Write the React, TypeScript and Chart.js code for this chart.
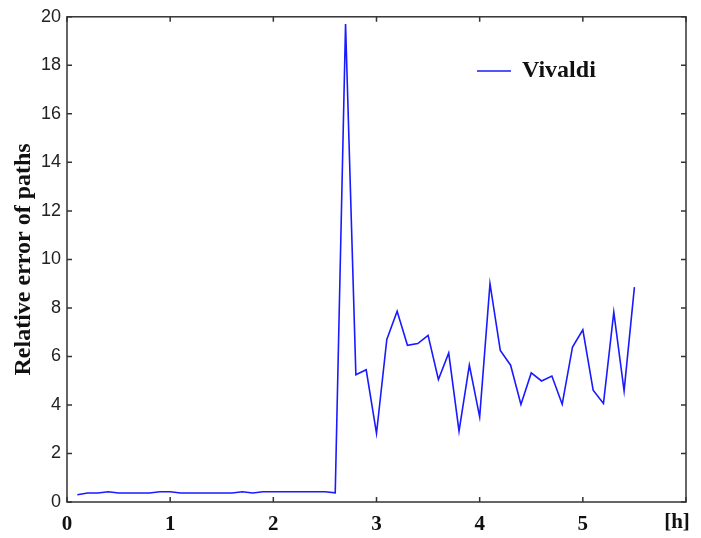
import React, { useEffect, useRef } from "react";
import { Chart, registerables } from "chart.js";

Chart.register(...registerables);

const hours = [
  0.1, 0.2, 0.3, 0.4, 0.5, 0.6, 0.7, 0.8, 0.9, 1.0,
  1.1, 1.2, 1.3, 1.4, 1.5, 1.6, 1.7, 1.8, 1.9, 2.0,
  2.1, 2.2, 2.3, 2.4, 2.5, 2.6, 2.7, 2.8, 2.9, 3.0,
  3.1, 3.2, 3.3, 3.4, 3.5, 3.6, 3.7, 3.8, 3.9, 4.0,
  4.1, 4.2, 4.3, 4.4, 4.5, 4.6, 4.7, 4.8, 4.9, 5.0,
  5.1, 5.2, 5.3, 5.4, 5.5,
];

const vivaldiError = [
  0.30, 0.37, 0.37, 0.42, 0.37, 0.37, 0.37, 0.37, 0.42, 0.42,
  0.37, 0.37, 0.37, 0.37, 0.37, 0.37, 0.42, 0.37, 0.42, 0.42,
  0.42, 0.42, 0.42, 0.42, 0.42, 0.38, 19.7, 5.25, 5.45, 2.83,
  6.7, 7.86, 6.46, 6.53, 6.87, 5.05, 6.14, 2.92, 5.64, 3.51,
  9.0, 6.25, 5.64, 4.02, 5.32, 4.99, 5.19, 4.03, 6.39, 7.1,
  4.61, 4.06, 7.83, 4.58, 8.86,
];

const seriesName = "Vivaldi";
const yAxisTitle = "Relative error of paths";
const xUnitLabel = "[h]";
const xTickValues = [0, 1, 2, 3, 4, 5, 6];
const yTickValues = [0, 2, 4, 6, 8, 10, 12, 14, 16, 18, 20];

const SERIF = "'Liberation Serif', 'Times New Roman', serif";
const SANS = "'Liberation Sans', Arial, sans-serif";

const boxPlugin = {
  id: "matlabBox",
  afterDraw(chart: any) {
    const { ctx, chartArea } = chart;
    const xs = chart.scales.x;
    const ys = chart.scales.y;
    const { left, right, top, bottom } = chartArea;
    ctx.save();
    ctx.strokeStyle = "#333";
    ctx.lineWidth = 1.5;
    ctx.strokeRect(left, top, right - left, bottom - top);
    const tl = 5;
    ctx.beginPath();
    for (const v of xTickValues) {
      const px = xs.getPixelForValue(v);
      ctx.moveTo(px, bottom);
      ctx.lineTo(px, bottom - tl);
      ctx.moveTo(px, top);
      ctx.lineTo(px, top + tl);
    }
    for (const v of yTickValues) {
      const py = ys.getPixelForValue(v);
      ctx.moveTo(left, py);
      ctx.lineTo(left + tl, py);
      ctx.moveTo(right, py);
      ctx.lineTo(right - tl, py);
    }
    ctx.stroke();

    // unit label
    ctx.fillStyle = "#111";
    ctx.font = `bold 21px ${SERIF}`;
    ctx.textAlign = "center";
    ctx.textBaseline = "middle";
    ctx.fillText(xUnitLabel, 677, 523);

    // legend
    const ds = chart.data.datasets[0];
    ctx.strokeStyle = ds.borderColor;
    ctx.lineWidth = 1.5;
    ctx.beginPath();
    ctx.moveTo(477, 71);
    ctx.lineTo(511, 71);
    ctx.stroke();
    ctx.fillStyle = "#111";
    ctx.font = `bold 24px ${SERIF}`;
    ctx.textAlign = "left";
    ctx.textBaseline = "middle";
    ctx.fillText(ds.label, 522, 71);
    ctx.restore();
  },
};

export default function App() {
  const ref = useRef<HTMLCanvasElement | null>(null);
  useEffect(() => {
    document.body.style.margin = "0";
    if (!ref.current) return;
    const chart = new Chart(ref.current, {
      type: "line",
      data: {
        datasets: [
          {
            label: seriesName,
            data: hours.map((h, i) => ({ x: h, y: vivaldiError[i] })),
            borderColor: "#1a1aff",
            borderWidth: 1.6,
            pointRadius: 0,
            tension: 0,
            fill: false,
          },
        ],
      },
      options: {
        animation: false,
        responsive: false,
        devicePixelRatio: 1,
        layout: { padding: { top: 16, right: 15, left: 0, bottom: 0 } },
        plugins: { legend: { display: false }, tooltip: { enabled: false } },
        scales: {
          x: {
            type: "linear",
            min: 0,
            max: 6,
            afterBuildTicks: (scale: any) => {
              scale.ticks = xTickValues.map((v) => ({ value: v }));
            },
            afterFit: (scale: any) => {
              scale.height = 36;
            },
            grid: { display: false, drawTicks: false },
            border: { display: false },
            ticks: {
              padding: 10,
              maxRotation: 0,
              autoSkip: false,
              color: "#111",
              font: { family: SERIF, size: 21, weight: "bold" },
              callback: (v: any) => (Number(v) <= 5 ? String(v) : ""),
            },
          },
          y: {
            type: "linear",
            min: 0,
            max: 20,
            afterBuildTicks: (scale: any) => {
              scale.ticks = yTickValues.map((v) => ({ value: v }));
            },
            afterFit: (scale: any) => {
              scale.width = 67;
            },
            grid: { display: false, drawTicks: false },
            border: { display: false },
            title: {
              display: true,
              text: yAxisTitle,
              color: "#111",
              font: { family: SERIF, size: 24, weight: "bold" },
              padding: { top: 9, bottom: 0 },
            },
            ticks: {
              padding: 6,
              autoSkip: false,
              color: "#222",
              font: { family: SANS, size: 18 },
            },
          },
        },
      },
      plugins: [boxPlugin],
    });
    return () => chart.destroy();
  }, []);
  return <canvas ref={ref} width={701} height={538} style={{ display: "block" }} />;
}
